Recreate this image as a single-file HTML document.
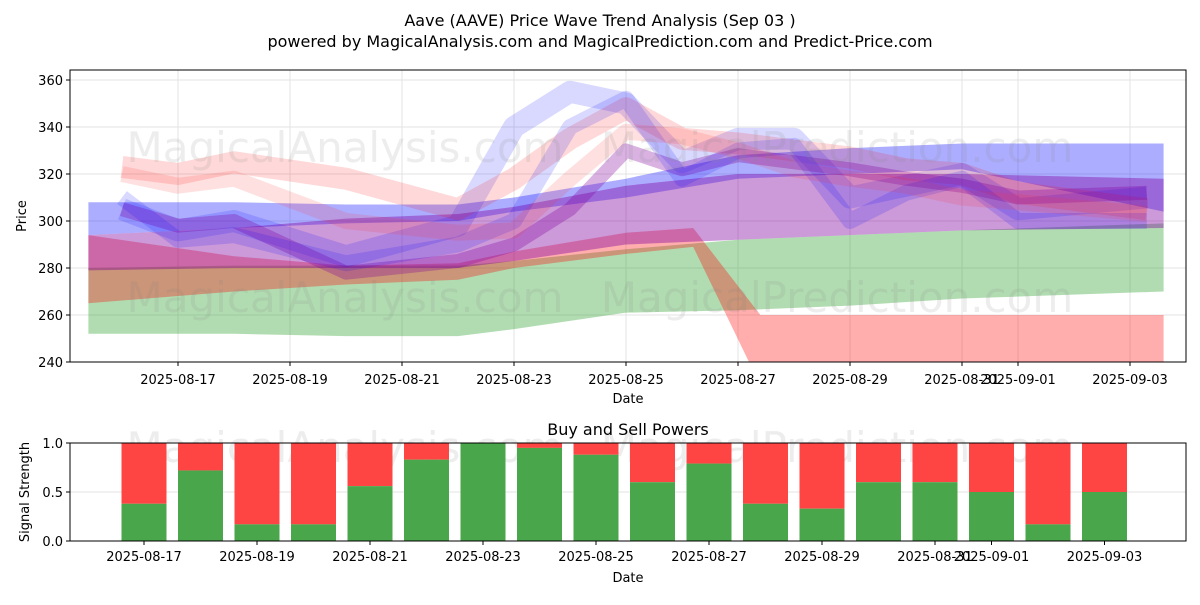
<!DOCTYPE html>
<html><head><meta charset="utf-8"><style>
body{margin:0;background:#fff;font-family:"Liberation Sans","DejaVu Sans",sans-serif}
svg text{font-family:"DejaVu Sans","Liberation Sans",sans-serif}
</style></head><body>
<svg id="c" width="1200" height="600" xmlns="http://www.w3.org/2000/svg"></svg>
<script>
// Top chart data (day index: 0 = 2025-08-15)
const tickDates=["2025-08-17","2025-08-19","2025-08-21","2025-08-23","2025-08-25","2025-08-27","2025-08-29","2025-08-31","2025-09-01","2025-09-03"];
const tickDays=[2,4,6,8,10,12,14,16,17,19];
const yTicks=[240,260,280,300,320,340,360];
const greenDays=[0.4,3,5,7,8,10,12,14,16,19.6];
const greenLow=[252,252,251,251,254,261,262,264,267,270];
const greenHigh=[280,281,281,281,283,288,292,294,296,299];
const redDays=[0.4,3,5,7,8,10,11.2,12.4,19.6];
const redLow=[265,270,273,275,280,286,289,230,230];
const redHigh=[294,285,281,282,287,295,297,260,260];
const blueDays=[0.4,3,5,7,8,10,12,14,16,19.6];
const blueLow=[294,297,299,300,304,310,318,320,322,304];
const blueHigh=[308,308,307,307,310,318,328,331,333,333];
const purpleLow=[279,280,280,280,283,290,292,294,296,297];
const purpleHigh=[294,297,301,303,306,315,320,320,320,318];
const line1Days=[1,2,3,5,7,8,9,10,11,12,13,14,15,16,17,19.3];
const line1=[305,296,300,285,298,340,355,350,325,335,335,310,315,320,305,310];
const line2=[323,320,325,318,305,318,335,348,335,333,330,327,322,320,312,305];
const line3=[305,298,300,278,283,290,305,330,322,328,325,322,318,315,310,312];
const line4=[310,292,294,282,290,300,340,352,318,330,332,300,312,318,300,300];
const line5=[320,315,318,300,295,296,318,338,336,330,322,318,315,310,308,303];
// Bottom chart data
const barDays=[2,3,4,5,6,7,8,9,10,11,12,13,14,15,16,17,18,19];
const buyPower=[0.38,0.72,0.17,0.17,0.56,0.83,1.0,0.95,0.88,0.6,0.79,0.38,0.33,0.6,0.6,0.5,0.17,0.5];

const NS="http://www.w3.org/2000/svg";
const svg=document.getElementById('c');
function mk(tag,attrs,parent){const e=document.createElementNS(NS,tag);for(const k in attrs)e.setAttribute(k,attrs[k]);(parent||svg).appendChild(e);return e;}
function txt(s,attrs,parent){const e=mk('text',attrs,parent);e.textContent=s;return e;}

const L=70,R=1186,T1=70,B1=362;
const x1=d=>66+56*d;
const y1=v=>362-(v-240)*2.35;
const T2=443,B2=541;
const x2=d=>31+56.5*d;
const y2=v=>B2-v*(B2-T2);

let t=txt("Aave (AAVE) Price Wave Trend Analysis (Sep 03 )",{x:600,y:26,'text-anchor':'middle','font-size':16});

t=txt("powered by MagicalAnalysis.com and MagicalPrediction.com and Predict-Price.com",{x:600,y:47,'text-anchor':'middle','font-size':16});


const defs=mk('defs',{});
const cp=mk('clipPath',{id:'cp1'},defs);mk('rect',{x:L,y:T1,width:R-L,height:B1-T1},cp);
const cp2=mk('clipPath',{id:'cp2'},defs);mk('rect',{x:L,y:T2,width:R-L,height:B2-T2},cp2);

const g1=mk('g',{});

tickDays.forEach(d=>mk('line',{x1:x1(d),x2:x1(d),y1:T1,y2:B1,stroke:'#e3e3e3'},g1));
yTicks.forEach(v=>mk('line',{x1:L,x2:R,y1:y1(v),y2:y1(v),stroke:'#e3e3e3'},g1));

const plot=mk('g',{'clip-path':'url(#cp1)'});

function band(days,lo,hi,color,op,name){
  let pts=days.map((d,i)=>x1(d)+','+y1(hi[i]));
  pts=pts.concat(days.map((d,i)=>x1(d)+','+y1(lo[i])).reverse());
  const p=mk('polygon',{points:pts.join(' '),fill:color,'fill-opacity':op},plot);
  
}
function line(days,vals,color,op,w,name){
  const p=mk('polyline',{points:days.map((d,i)=>x1(d)+','+y1(vals[i])).join(' '),fill:'none',stroke:color,'stroke-opacity':op,'stroke-width':w,'stroke-linejoin':'round'},plot);
  
}
band(greenDays,greenLow,greenHigh,'#2ca02c',0.37,'green-band');
band(redDays,redLow,redHigh,'#ff0000',0.32,'red-band');
band(blueDays,blueLow,blueHigh,'#0000ff',0.32,'blue-band');
band(blueDays,purpleLow,purpleHigh,'#8000a0',0.4,'purple-band');
line(line1Days,line1,'#0000ff',0.15,22,'blue-wave-1');
line(line1Days,line2,'#ff0000',0.15,22,'red-wave-1');
line(line1Days,line3,'#8000a0',0.3,14,'purple-wave-1');
line(line1Days,line4,'#0000ff',0.15,16,'blue-wave-2');
line(line1Days,line5,'#ff3030',0.15,16,'red-wave-2');

[[345,162,'MagicalAnalysis.com'],[837,162,'MagicalPrediction.com'],[345,312,'MagicalAnalysis.com'],[837,312,'MagicalPrediction.com'],[345,462,'MagicalAnalysis.com'],[837,462,'MagicalPrediction.com']].forEach(w=>{
  const e=txt(w[2],{x:w[0],y:w[1],'text-anchor':'middle','font-size':42,fill:'#888','fill-opacity':0.15});
  
});

mk('rect',{x:L,y:T1,width:R-L,height:B1-T1,fill:'none',stroke:'#000','stroke-width':1});
tickDays.forEach((d,i)=>{mk('line',{x1:x1(d),x2:x1(d),y1:B1,y2:B1+4,stroke:'#000'});
  const e=txt(tickDates[i],{x:x1(d),y:B1+22,'text-anchor':'middle','font-size':13});
  });
yTicks.forEach(v=>{mk('line',{x1:L-4,x2:L,y1:y1(v),y2:y1(v),stroke:'#000'});
  const e=txt(v,{x:L-7,y:y1(v)+5,'text-anchor':'end','font-size':13});
  });
t=txt('Date',{x:628,y:403,'text-anchor':'middle','font-size':13});
t=txt('Price',{x:26,y:216,'text-anchor':'middle','font-size':13,transform:'rotate(-90 26 216)'});

t=txt('Buy and Sell Powers',{x:628,y:435,'text-anchor':'middle','font-size':16});
[0,0.5,1].forEach(v=>mk('line',{x1:L,x2:R,y1:y2(v),y2:y2(v),stroke:'#e3e3e3'}));
tickDays.forEach(d=>mk('line',{x1:x2(d),x2:x2(d),y1:T2,y2:B2,stroke:'#e3e3e3'}));
const bars=mk('g',{'clip-path':'url(#cp2)'});

barDays.forEach((d,i)=>{
  const bw=45,xx=x2(d)-bw/2,v=buyPower[i];
  const s=mk('rect',{x:xx,y:y2(1),width:bw,height:y2(v)-y2(1),fill:'#ff4444'},bars);
  
  const b=mk('rect',{x:xx,y:y2(v),width:bw,height:B2-y2(v),fill:'#4aa64a'},bars);
  
});
mk('rect',{x:L,y:T2,width:R-L,height:B2-T2,fill:'none',stroke:'#000'});
tickDays.forEach((d,i)=>{mk('line',{x1:x2(d),x2:x2(d),y1:B2,y2:B2+4,stroke:'#000'});
  const e=txt(tickDates[i],{x:x2(d),y:B2+20,'text-anchor':'middle','font-size':13});
  });
[[0,'0.0'],[0.5,'0.5'],[1,'1.0']].forEach(p=>{mk('line',{x1:L-4,x2:L,y1:y2(p[0]),y2:y2(p[0]),stroke:'#000'});
  const e=txt(p[1],{x:L-7,y:y2(p[0])+5,'text-anchor':'end','font-size':13});
  });
t=txt('Date',{x:628,y:582,'text-anchor':'middle','font-size':13});
t=txt('Signal Strength',{x:29,y:492,'text-anchor':'middle','font-size':13,transform:'rotate(-90 29 492)'});
</script>
</body></html>
